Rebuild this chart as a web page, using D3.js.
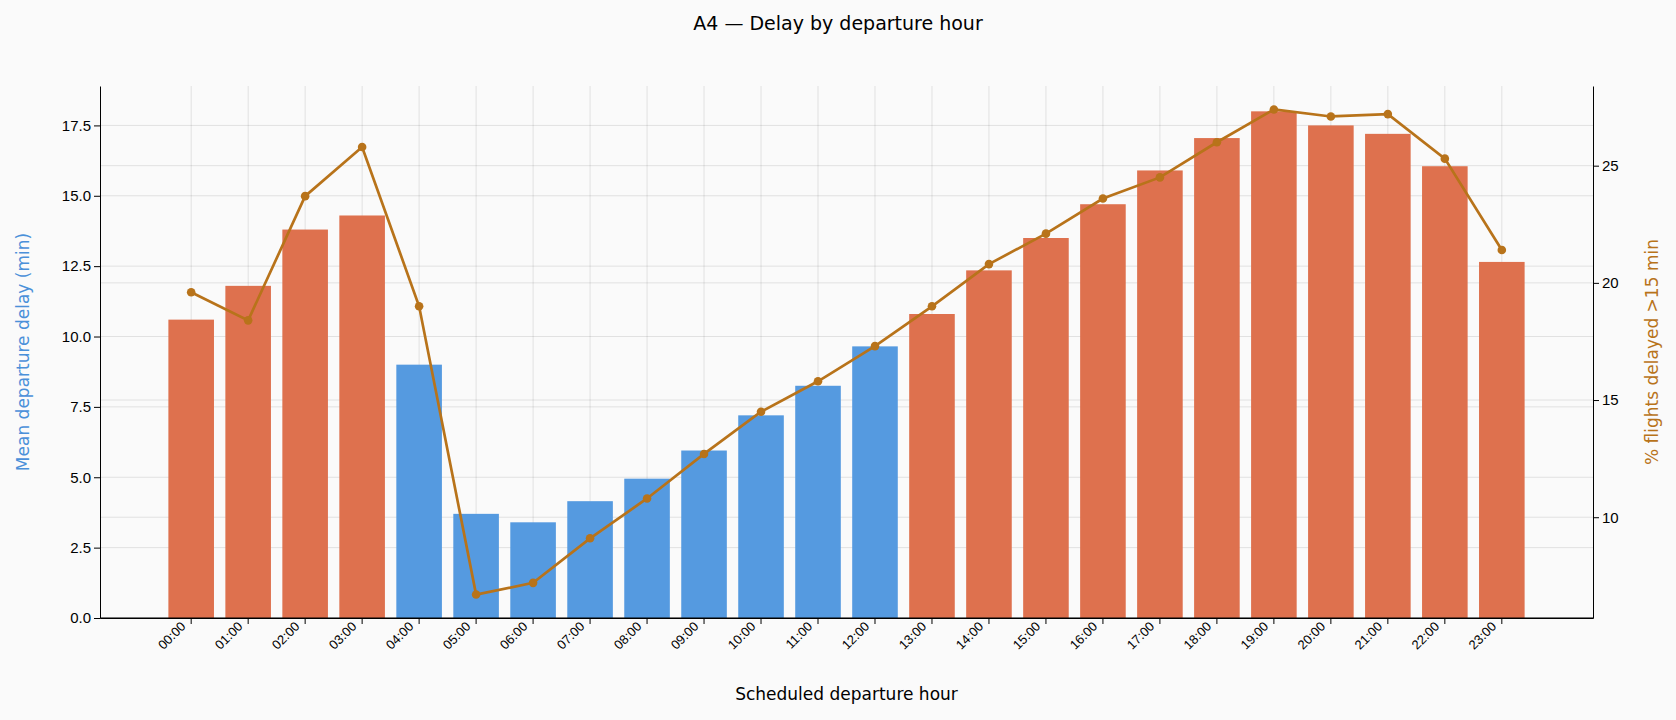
<!DOCTYPE html>
<html><head><meta charset="utf-8">
<script src="https://cdn.jsdelivr.net/npm/d3@7"></script>
<style>body{margin:0;background:#fafafa;font-family:"DejaVu Sans",sans-serif}</style>
</head><body><svg id="chart" width="1676" height="720"></svg>
<script>
// chart data
var hours = ["00:00","01:00","02:00","03:00","04:00","05:00","06:00","07:00","08:00","09:00","10:00","11:00",
             "12:00","13:00","14:00","15:00","16:00","17:00","18:00","19:00","20:00","21:00","22:00","23:00"];
var meanDelay = [10.6,11.8,13.8,14.3,9.0,3.7,3.4,4.15,4.95,5.95,7.2,8.25,9.65,10.8,12.35,13.5,14.7,15.9,17.05,18.0,17.5,17.2,16.05,12.65];
var pctDelayed = [19.6,18.4,23.7,25.8,19.0,6.7,7.2,9.1,10.8,12.7,14.5,15.8,17.3,19.0,20.8,22.1,23.6,24.5,26.0,27.4,27.1,27.2,25.3,21.4];
var leftTicks = [0,2.5,5,7.5,10,12.5,15,17.5];
var rightTicks = [10,15,20,25];

var m = {left: 100, right: 83, top: 86, bottom: 102};
var W = 1676, H = 720;
var svg = d3.select("#chart");
svg.append("rect").attr("width", W).attr("height", H).attr("fill", "#fafafa");

var x = d3.scaleBand().domain(hours).range([m.left, W - m.right]).paddingInner(0.2).paddingOuter(1.2);
var y = d3.scaleLinear().domain([0, 18.9]).range([H - m.bottom, m.top]);
var y2 = d3.scaleLinear().domain([5.7, 28.4]).range([H - m.bottom, m.top]);

// grid
var grid = svg.append("g").attr("stroke", "#000").attr("stroke-opacity", 0.1).attr("stroke-width", 1);
hours.forEach(h => grid.append("line").attr("x1", x(h) + x.bandwidth()/2).attr("x2", x(h) + x.bandwidth()/2)
    .attr("y1", m.top).attr("y2", H - m.bottom));
leftTicks.forEach(t => grid.append("line").attr("x1", m.left).attr("x2", W - m.right).attr("y1", y(t)).attr("y2", y(t)));
rightTicks.forEach(t => grid.append("line").attr("x1", m.left).attr("x2", W - m.right).attr("y1", y2(t)).attr("y2", y2(t)));

// bars
svg.selectAll(".bar").data(hours).enter().append("rect")
    .attr("x", d => x(d)).attr("width", x.bandwidth())
    .attr("y", (d, i) => y(meanDelay[i]))
    .attr("height", (d, i) => y(0) - y(meanDelay[i]))
    .attr("fill", (d, i) => meanDelay[i] < 10 ? "#559ae0" : "#de714e");

// line
var line = d3.line().x((d, i) => x(hours[i]) + x.bandwidth()/2).y(d => y2(d));
svg.append("path").datum(pctDelayed).attr("d", line).attr("fill", "none")
    .attr("stroke", "#b8731a").attr("stroke-width", 2.7);
svg.selectAll(".pt").data(pctDelayed).enter().append("circle")
    .attr("cx", (d, i) => x(hours[i]) + x.bandwidth()/2).attr("cy", d => y2(d))
    .attr("r", 4.3).attr("fill", "#b8731a");

// axes
var ax = svg.append("g").attr("transform", `translate(0,${H - m.bottom})`)
    .call(d3.axisBottom(x).tickSizeOuter(0));
ax.select(".domain").attr("stroke", "#000");
ax.selectAll("text").attr("font-size", 13).attr("text-anchor", "end")
    .attr("transform", "translate(-8,6) rotate(-45)").attr("dy", "0.35em").attr("dx", 0).attr("y", 0).attr("x", 0);
svg.append("line").attr("x1", m.left).attr("x2", W - m.right).attr("y1", H - m.bottom).attr("y2", H - m.bottom).attr("stroke", "#000");

var ay = svg.append("g").attr("transform", `translate(${m.left},0)`)
    .call(d3.axisLeft(y).tickValues(leftTicks).tickFormat(d3.format(".1f")).tickSizeOuter(0));
ay.selectAll("text").attr("font-size", 15);
var ay2 = svg.append("g").attr("transform", `translate(${W - m.right},0)`)
    .call(d3.axisRight(y2).tickValues(rightTicks).tickSizeOuter(0));
ay2.selectAll("text").attr("font-size", 15);

// labels
svg.append("text").attr("x", 838).attr("y", 30).attr("text-anchor", "middle").attr("font-size", 19)
    .text("A4 — Delay by departure hour");
svg.append("text").attr("x", (m.left + W - m.right)/2).attr("y", 700).attr("text-anchor", "middle")
    .attr("font-size", 17).text("Scheduled departure hour");
svg.append("text").attr("transform", `translate(29,${(m.top + H - m.bottom)/2}) rotate(-90)`)
    .attr("text-anchor", "middle").attr("font-size", 17).attr("fill", "#4a90d9").text("Mean departure delay (min)");
svg.append("text").attr("transform", `translate(1658,${(m.top + H - m.bottom)/2}) rotate(-90)`)
    .attr("text-anchor", "middle").attr("font-size", 17).attr("fill", "#b8731a").text("% flights delayed >15 min");
</script></body></html>
